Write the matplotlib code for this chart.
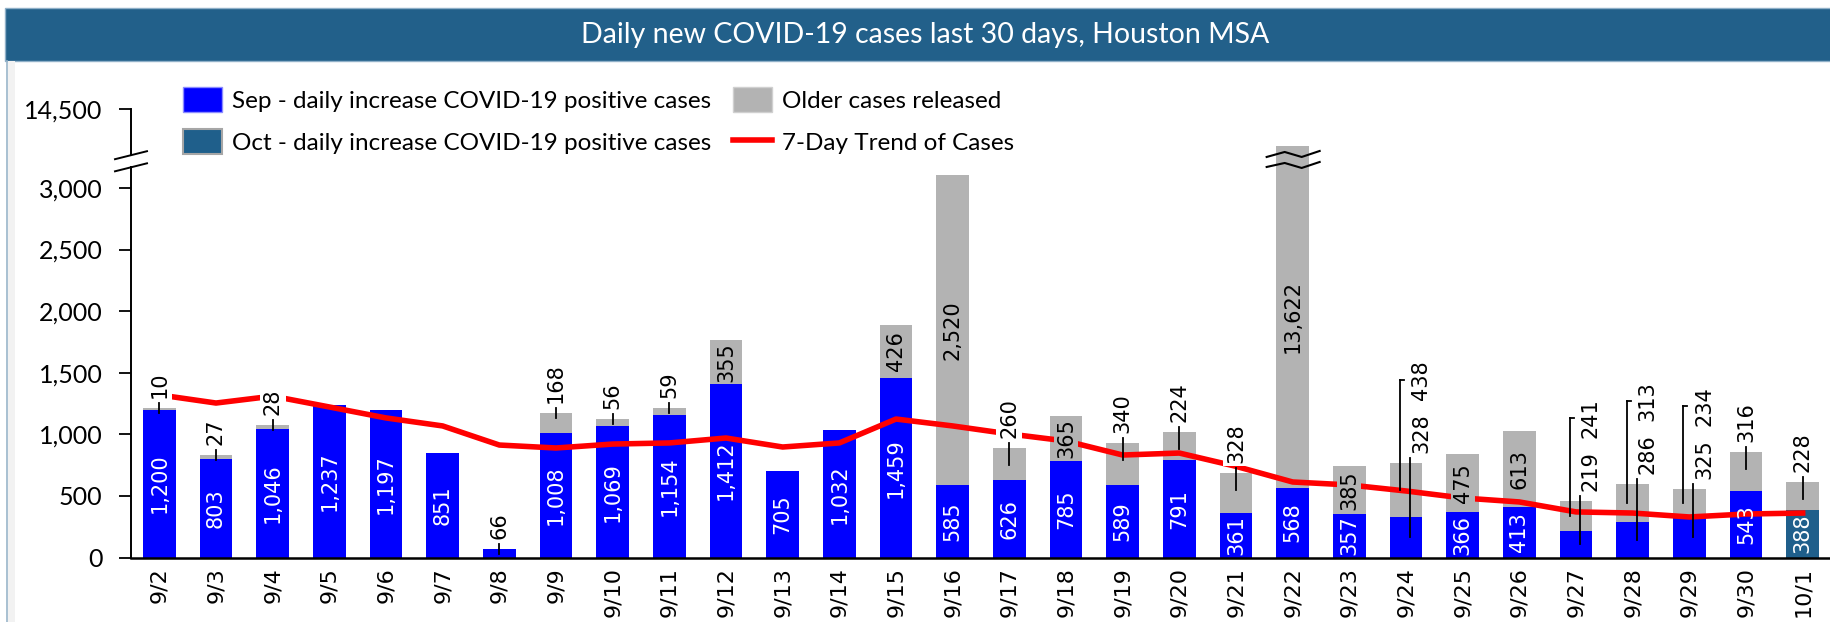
import numpy as np
import matplotlib
matplotlib.use('Agg')
import matplotlib.pyplot as plt
from matplotlib.patches import Patch, Rectangle
from matplotlib.lines import Line2D

# values
dates = ['9/2', '9/3', '9/4', '9/5', '9/6', '9/7', '9/8', '9/9', '9/10', '9/11',
         '9/12', '9/13', '9/14', '9/15', '9/16', '9/17', '9/18', '9/19', '9/20', '9/21',
         '9/22', '9/23', '9/24', '9/25', '9/26', '9/27', '9/28', '9/29', '9/30', '10/1']
new_cases = [1200, 803, 1046, 1237, 1197, 851, 66, 1008, 1069, 1154,
             1412, 705, 1032, 1459, 585, 626, 785, 589, 791, 361,
             568, 357, 328, 366, 413, 219, 286, 325, 543, 388]
older_cases = [10, 27, 28, 0, 0, 0, 0, 168, 56, 59,
               355, 0, 0, 426, 2520, 260, 365, 340, 224, 328,
               13622, 385, 438, 475, 613, 241, 313, 234, 316, 228]
trend_7day = [1320, 1254, 1310, 1222, 1133, 1068, 913, 889, 921, 930,
              970, 897, 930, 1124, 1068, 1003, 946, 832, 848, 740,
              613, 589, 540, 483, 451, 370, 361, 329, 353, 361]

yticks = [0, 500, 1000, 1500, 2000, 2500, 3000, 14500]

# label placement (as in the excel chart)
new_label_outside = ['9/8', '9/24', '9/27', '9/28', '9/29']
older_label_inside = ['9/12', '9/15', '9/16', '9/18', '9/22', '9/23', '9/25', '9/26']
paired_labels = ['9/24', '9/27', '9/28', '9/29']
long_leader_start = dates.index('9/17')

BLUE = '#0000FF'
OCT = '#1F5F8B'
GREY = '#B3B3B3'
TITLE_BG = '#22608A'

W, H = 1831, 622
fig = plt.figure(figsize=(W / 100, H / 100), dpi=100)

# title bar
fig.add_artist(Rectangle((5 / W, (H - 61) / H), 1 - 5 / W, 53 / H, transform=fig.transFigure,
                         facecolor=TITLE_BG, edgecolor='#8fb0c8', lw=1))
fig.text(0.5055, (H - 35) / H, 'Daily new COVID-19 cases last 30 days, Houston MSA',
         color='white', fontsize=20.5, family='Lato', ha='center', va='center')
# left frame edge
fig.add_artist(Rectangle((8 / W, 0), 7 / W, (H - 61) / H, transform=fig.transFigure,
                         facecolor='#f2f2f2', edgecolor='none'))
fig.add_artist(Line2D([7 / W, 7 / W], [0, (H - 61) / H], transform=fig.transFigure,
                      color='#9ab5ca', lw=1.2))

ax = fig.add_axes([131 / W, (H - 557.5) / H, 1 - 131 / W, (557.5 - 109) / H])

# broken y axis: squeeze the range above ~3,200
brk_data = [0, 3200, 14200, 14500]
brk_disp = [0, 3200, 3341, 3641]


def fwd(v):
    return np.interp(v, brk_data, brk_disp)


def inv(v):
    return np.interp(v, brk_disp, brk_data)


ax.set_yscale('function', functions=(fwd, inv))
ax.set_ylim(0, 14500)
ax.set_xlim(-0.5, len(dates) - 0.5)

x = np.arange(len(dates))
bar_cols = [BLUE if d.startswith('9/') else OCT for d in dates]
ax.bar(x, new_cases, width=0.58, color=bar_cols, lw=0, zorder=2)
ax.bar(x, older_cases, bottom=new_cases, width=0.58, color=GREY, lw=0, zorder=2)
ax.plot(x, trend_7day, color='red', lw=4, zorder=3)


def to_px(i, v):
    return ax.transData.transform((i, v))


def from_px(px, py):
    return ax.transData.inverted().transform((px, py))


def leader(i, v, dx, y0, y1, tick=0):
    X, Y = to_px(i, v)
    p0 = from_px(X + dx, Y + y0)
    p1 = from_px(X + dx, Y + y1)
    ax.plot([p0[0], p1[0]], [p0[1], p1[1]], color='black', lw=1.3, zorder=4, clip_on=False)
    if tick:
        p2 = from_px(X + dx + tick, Y + y0)
        ax.plot([p0[0], p2[0]], [p0[1], p2[1]], color='black', lw=1.3, zorder=4)


def mid(i, lo, hi):
    # middle of a segment in screen space
    return from_px(to_px(i, lo)[0], (to_px(i, lo)[1] + to_px(i, hi)[1]) / 2)[1]


def out_label(i, v, txt, dx, dy):
    ax.annotate(txt, xy=(i, v), xytext=(dx, dy), textcoords='offset pixels',
                rotation=90, ha='center', va='bottom', fontsize=15, color='black',
                bbox=dict(boxstyle='square,pad=0.15', fc='white', ec='none'), zorder=5)


for i, d in enumerate(dates):
    n, o = new_cases[i], older_cases[i]
    top = n + o
    Xc, Ytop = to_px(i, top)
    if d in paired_labels:
        y_new_mid = to_px(i, mid(i, 0, n))[1] - Ytop
        y_old_mid = to_px(i, mid(i, n, top))[1] - Ytop
        out_label(i, top, f'{n:,}', 15, 10)
        out_label(i, top, f'{o:,}', 15, 63)
        leader(i, top, 4, 5, y_new_mid)
        leader(i, top, -6, 83, y_old_mid, tick=4)
        continue
    # daily new cases
    if d in new_label_outside:
        out_label(i, top, f'{n:,}', 0, 10)
        leader(i, top, 0, 5, -5)
    else:
        ax.text(i, mid(i, 0, n), f'{n:,}', rotation=90, ha='center', va='center',
                fontsize=15, color='white', zorder=5)
    # older cases released
    if o == 0:
        continue
    if d in older_label_inside:
        ax.text(i, mid(i, n, top), f'{o:,}', rotation=90, ha='center', va='center',
                fontsize=15, color='black', zorder=5,
                bbox=dict(boxstyle='square,pad=0.1', fc=GREY, ec='none'))
    else:
        out_label(i, top, f'{o:,}', 0, 10)
        length = 22 if i >= long_leader_start else 10
        leader(i, top, 0, 5, 5 - length)

# zigzag break on the 9/22 bar
i22 = dates.index('9/22')
X22, T22 = to_px(i22, new_cases[i22] + older_cases[i22])
for off in ([-11, -6, -11, -5], [-21, -17, -22, -16]):
    pts = [from_px(X22 + dx, T22 + dy) for dx, dy in zip([-26, -8, 9, 27], off)]
    ax.plot([p[0] for p in pts], [p[1] for p in pts], color='black', lw=1.5, zorder=4)

# axes styling
for s in ['top', 'right', 'left']:
    ax.spines[s].set_visible(False)
ax.spines['bottom'].set_linewidth(1.8)
ax.spines['bottom'].set_color('black')

# left spine drawn in two parts with the break marks
ax_w, ax_h = ax.bbox.width, ax.bbox.height
f1, f2 = 0.897, 0.870
ax.plot([0, 0], [1, f1], transform=ax.transAxes, color='black', lw=1.4, clip_on=False)
ax.plot([0, 0], [f2, 0], transform=ax.transAxes, color='black', lw=1.4, clip_on=False)
for f in (f1, f2):
    ax.plot([-16 / ax_w, 16 / ax_w], [f - 4 / ax_h, f + 4 / ax_h], transform=ax.transAxes,
            color='black', lw=1.4, clip_on=False)

ax.set_yticks(yticks)
ax.set_yticklabels([f'{v:,}' for v in yticks])
ax.tick_params(axis='y', length=8.6, width=1.3, pad=12, labelsize=18, direction='out')
for lbl in ax.get_yticklabels():
    lbl.set_family('Lato')
ax.minorticks_off()
ax.set_xticks(x)
ax.set_xticklabels(dates, rotation=90, fontsize=16)
ax.tick_params(axis='x', length=0, pad=7)

handles = [Patch(facecolor=BLUE, edgecolor='#8c8cff', lw=1),
           Patch(facecolor=OCT, edgecolor='#a6a6a6', lw=1.5),
           Patch(facecolor=GREY, edgecolor='#d0d0d0', lw=1),
           Line2D([], [], color='red', lw=4)]
labels = ['Sep - daily increase COVID-19 positive cases',
          'Oct - daily increase COVID-19 positive cases',
          'Older cases released', '7-Day Trend of Cases']
fig.legend(handles, labels, ncol=2, loc='upper left', bbox_to_anchor=(183 / W, (H - 87) / H),
           frameon=False, prop={'family': 'Lato', 'size': 17.5}, handlelength=1.6,
           handleheight=1.2, handletextpad=0.42, labelspacing=0.72, columnspacing=0.9,
           borderpad=0, borderaxespad=0)

fig.savefig('out.png', dpi=100)
